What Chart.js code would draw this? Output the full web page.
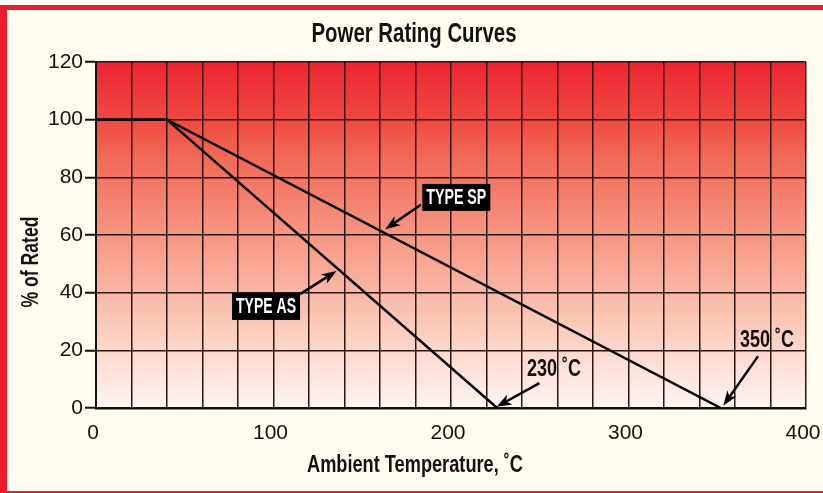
<!DOCTYPE html>
<html>
<head>
<meta charset="utf-8">
<script src="https://cdn.jsdelivr.net/npm/chart.js@4.4.1/dist/chart.umd.min.js"></script>
<style>
html, body { margin: 0; padding: 0; background: #fff; }
#frame {
    position: absolute; left: 0; top: 5px; width: 823px; height: 488px;
    box-sizing: border-box; background: #fffdf0;
    border-top: 5px solid #ec1c2d; border-left: 7px solid #ec1c2d; border-bottom: 2px solid #ec1c2d;
}
#wrap { position: absolute; left: 0; top: 0; width: 823px; height: 493px; }
</style>
</head>
<body>
<div id="frame"></div>
<div id="wrap"><canvas id="rating-chart"></canvas></div>
<script>
// Derating curves (temperature in deg C, % of rated power)
const typeAsTemp = [0, 40, 226];
const typeAsRated = [100, 100, 0];
const typeSpTemp = [0, 40, 352];
const typeSpRated = [100, 100, 0];

// Tick labels
const xTickLabels = [0, 100, 200, 300, 400];
const yTickLabels = [0, 20, 40, 60, 80, 100, 120];

const FONT = "'Liberation Sans', Arial, sans-serif";

// Callouts, anchored in data units (label centre, arrow tail, arrow tip)
const callouts = [
    { text: 'TYPE SP', boxed: true, at: [203, 73.2], from: [183, 70.5], to: [163, 62] },
    { text: 'TYPE AS', boxed: true, at: [95.8, 35.4], from: [115, 39.5], to: [135.5, 47.5] },
    { text: '230 ˚C', boxed: false, at: [258, 13.5], from: [249.8, 8.6], to: [225.7, 0.4] },
    { text: '350 ˚C', boxed: false, at: [378, 23.6], from: [373, 18], to: [353.4, 0.8] }
];

function toPoints(xs, ys) {
    return xs.map((x, i) => ({ x: x, y: ys[i] }));
}

// bold text squeezed sideways to a given width, to look like the condensed face of the original
function narrowText(ctx, text, x, y, size, width) {
    ctx.save();
    ctx.font = 'bold ' + size + 'px ' + FONT;
    ctx.textAlign = 'center';
    ctx.textBaseline = 'middle';
    const squeeze = width / ctx.measureText(text).width;
    ctx.translate(x, y);
    ctx.scale(squeeze, 1);
    ctx.fillText(text, 0, 0);
    ctx.restore();
}

// Red-to-white fill behind the grid
const plotBackground = {
    id: 'plotBackground',
    beforeDraw(chart) {
        const { ctx, chartArea: a } = chart;
        const g = ctx.createLinearGradient(0, a.top, 0, a.bottom);
        g.addColorStop(0, '#ed2330');
        g.addColorStop(0.17, '#ef4a42');
        g.addColorStop(0.28, '#f26a58');
        g.addColorStop(0.55, '#f7a08c');
        g.addColorStop(0.75, '#fbc8b8');
        g.addColorStop(1, '#fff5f3');
        ctx.save();
        ctx.fillStyle = g;
        ctx.fillRect(a.left, a.top, a.right - a.left, a.bottom - a.top);
        ctx.restore();
    }
};

function drawArrow(ctx, x1, y1, x2, y2) {
    const ang = Math.atan2(y2 - y1, x2 - x1);
    const head = 15;
    ctx.save();
    ctx.strokeStyle = '#000';
    ctx.fillStyle = '#000';
    ctx.lineWidth = 2.5;
    ctx.beginPath();
    ctx.moveTo(x1, y1);
    ctx.lineTo(x2 - Math.cos(ang) * head * 0.7, y2 - Math.sin(ang) * head * 0.7);
    ctx.stroke();
    ctx.translate(x2, y2);
    ctx.rotate(ang);
    ctx.beginPath();
    ctx.moveTo(0, 0);
    ctx.lineTo(-head, -5.5);
    ctx.lineTo(-head * 0.72, 0);
    ctx.lineTo(-head, 5.5);
    ctx.closePath();
    ctx.fill();
    ctx.restore();
}

const calloutPlugin = {
    id: 'callouts',
    afterDatasetsDraw(chart) {
        const { ctx, scales: { x, y } } = chart;
        callouts.forEach(c => {
            drawArrow(ctx, x.getPixelForValue(c.from[0]), y.getPixelForValue(c.from[1]),
                x.getPixelForValue(c.to[0]), y.getPixelForValue(c.to[1]));
            const cx = x.getPixelForValue(c.at[0]);
            const cy = y.getPixelForValue(c.at[1]);
            ctx.save();
            if (c.boxed) {
                ctx.fillStyle = '#000';
                ctx.fillRect(cx - 34, cy - 13, 68, 27);
                ctx.fillStyle = '#fff';
                narrowText(ctx, c.text, cx, cy + 1, 22, 60);
            } else {
                ctx.fillStyle = '#111';
                narrowText(ctx, c.text, cx, cy + 1, 23, 54);
            }
            ctx.restore();
        });
    },
    afterDraw(chart) {
        const ctx = chart.ctx;
        ctx.save();
        ctx.fillStyle = '#111';
        narrowText(ctx, 'Power Rating Curves', 414, 35, 27, 205);
        narrowText(ctx, 'Ambient Temperature, ˚C', 415, 465, 24, 216);
        ctx.translate(31, 262);
        ctx.rotate(-Math.PI / 2);
        narrowText(ctx, '% of Rated', 0, 0, 24, 91);
        ctx.restore();
    }
};

const ctx = document.getElementById('rating-chart').getContext('2d');
const ratingChart = new Chart(ctx, {
    type: 'scatter',
    data: {
        datasets: [{
            label: 'TYPE AS',
            data: toPoints(typeAsTemp, typeAsRated),
            showLine: true,
            borderColor: '#000',
            borderWidth: 2.5,
            pointRadius: 0,
            tension: 0
        }, {
            label: 'TYPE SP',
            data: toPoints(typeSpTemp, typeSpRated),
            showLine: true,
            borderColor: '#000',
            borderWidth: 2.5,
            pointRadius: 0,
            tension: 0
        }]
    },
    options: {
        responsive: true,
        maintainAspectRatio: false,
        animation: false,
        layout: { padding: { left: 0, right: 17, top: 62, bottom: 0 } },
        plugins: {
            legend: { display: false },
            tooltip: { enabled: false },
            title: { display: false }
        },
        scales: {
            x: {
                type: 'linear',
                min: 0,
                max: 400,
                afterFit: (scale) => {
                    scale.height = 85;
                    scale.paddingLeft = 0;
                    scale.paddingRight = 0;
                },
                ticks: {
                    stepSize: 20,
                    autoSkip: false,
                    maxRotation: 0,
                    padding: 13,
                    labelOffset: -3,
                    color: '#111',
                    font: { family: FONT, size: 21 },
                    callback: (value) => xTickLabels.includes(value) ? value : ''
                },
                grid: { color: '#2b1512', lineWidth: 1.5, drawTicks: false },
                border: { color: '#111', width: 2.5 }
            },
            y: {
                min: 0,
                max: 120,
                afterFit: (scale) => {
                    scale.width = 96;
                    scale.paddingTop = 0;
                    scale.paddingBottom = 0;
                },
                ticks: {
                    stepSize: 20,
                    padding: 2,
                    color: '#111',
                    font: { family: FONT, size: 21, lineHeight: 1 },
                    callback: (value) => yTickLabels.includes(value) ? value : ''
                },
                grid: { color: '#2b1512', lineWidth: 1.5, tickLength: 11, tickColor: '#111', tickWidth: 2 },
                border: { color: '#111', width: 2 }
            }
        }
    },
    plugins: [plotBackground, calloutPlugin]
});
</script>
</body>
</html>
